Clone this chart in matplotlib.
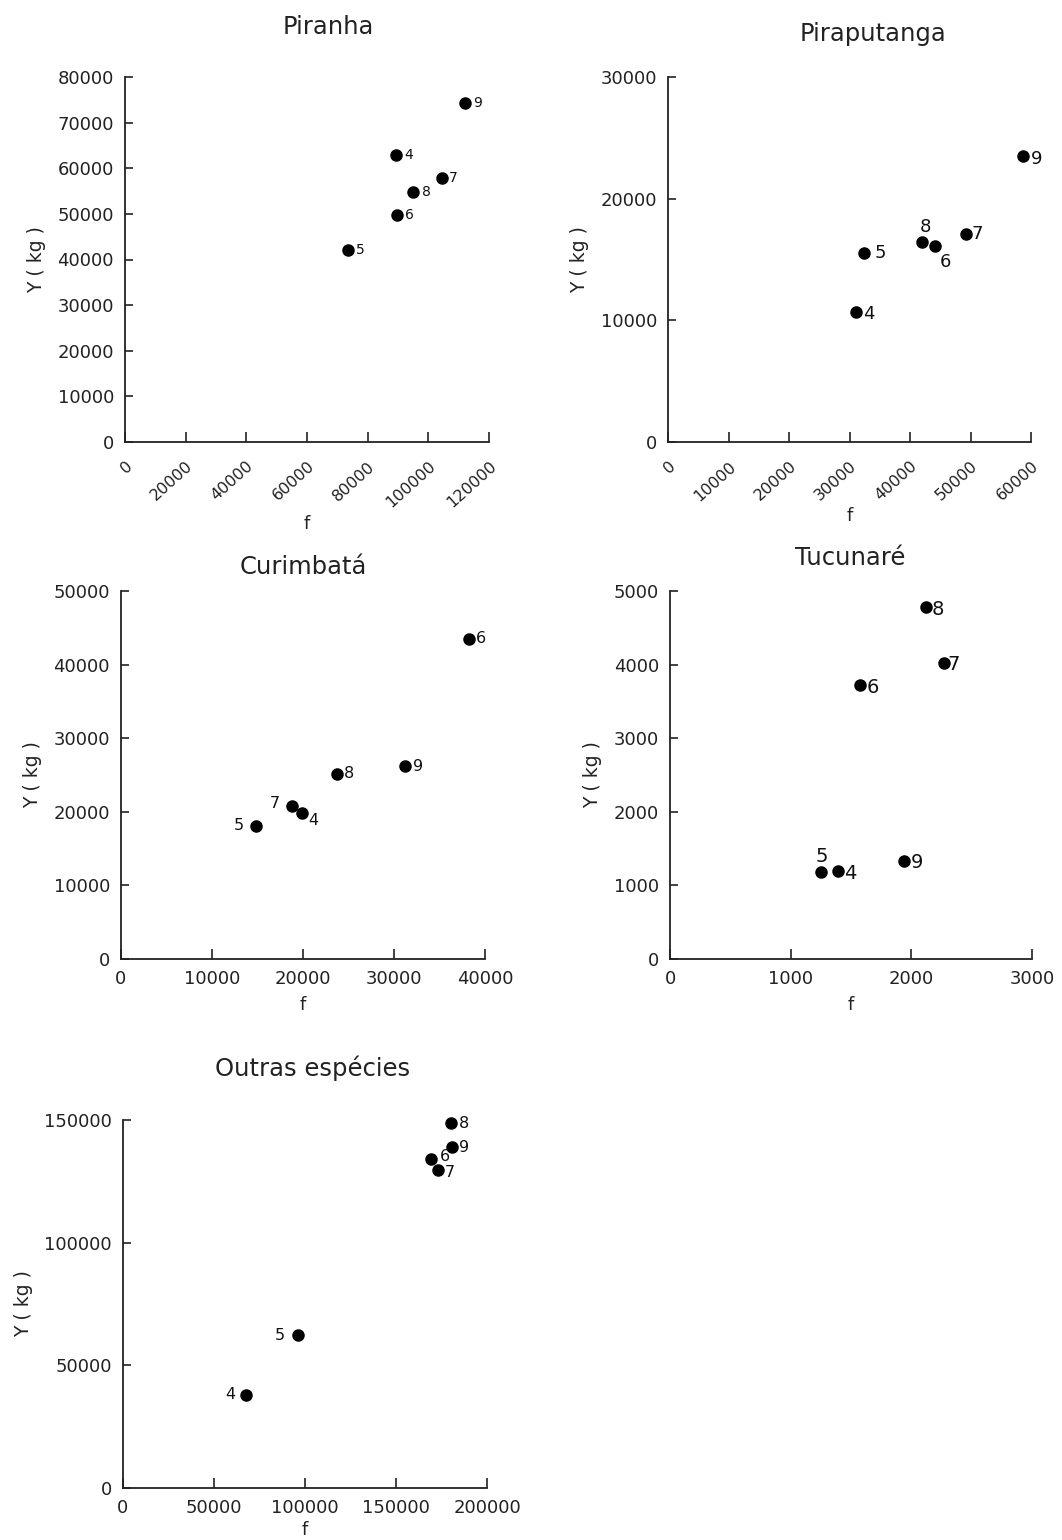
import matplotlib
matplotlib.use('Agg')
import matplotlib.pyplot as plt

# ---- data ----
piranha_f = [89200, 73400, 89600, 104400, 95000, 112000]
piranha_y = [63000, 42100, 49800, 57800, 54700, 74300]
piranha_lab = ['4', '5', '6', '7', '8', '9']

pirap_f = [31100, 32400, 44200, 49200, 42000, 58700]
pirap_y = [10700, 15500, 16100, 17100, 16400, 23500]
pirap_lab = ['4', '5', '6', '7', '8', '9']

curim_f = [19850, 14850, 38200, 18750, 23700, 31200]
curim_y = [19900, 18100, 43500, 20800, 25100, 26200]
curim_lab = ['4', '5', '6', '7', '8', '9']

tucun_f = [1396, 1250, 1576, 2267, 2123, 1941]
tucun_y = [1195, 1185, 3720, 4028, 4783, 1330]
tucun_lab = ['4', '5', '6', '7', '8', '9']

outras_f = [67400, 96200, 169500, 173100, 180400, 180800]
outras_y = [38000, 62200, 134000, 129600, 148600, 138900]
outras_lab = ['4', '5', '6', '7', '8', '9']

titles = ['Piranha', 'Piraputanga', 'Curimbatá', 'Tucunaré', 'Outras espécies']
xticks = [
    [0, 20000, 40000, 60000, 80000, 100000, 120000],
    [0, 10000, 20000, 30000, 40000, 50000, 60000],
    [0, 10000, 20000, 30000, 40000],
    [0, 1000, 2000, 3000],
    [0, 50000, 100000, 150000, 200000],
]
yticks = [
    [0, 10000, 20000, 30000, 40000, 50000, 60000, 70000, 80000],
    [0, 10000, 20000, 30000],
    [0, 10000, 20000, 30000, 40000, 50000],
    [0, 1000, 2000, 3000, 4000, 5000],
    [0, 50000, 100000, 150000],
]

# ---- layout / styling ----
W, H = 1062, 1540
# axes boxes in pixels: left, right, top, bottom
boxes = [(125, 489, 77, 442), (668, 1031, 77, 442), (121, 485, 591, 959),
         (670, 1032, 591, 959), (123, 487, 1120, 1488)]
title_x = [0.558, 0.566, 0.50, 0.498, 0.522]
title_pad = [31, 26, 12.5, 18.5, 32]
rotate_x = [True, True, False, False, False]
xlab_pad = [3, 2, 6, 6, 3]
lab_size = [10, 13, 11.5, 14, 11.5]
# label offsets (pixels, from marker centre) per point
offsets = [
    [(13, 0), (13, 0), (13, 0), (12, 0), (13, 0), (13, 0)],
    [(13, -2), (16, 0), (10, -16), (12, 0), (3, 15), (13, -3)],
    [(12, -8), (-17, 0), (12, 0), (-17, 2), (12, 1), (13, 0)],
    [(12, -2), (1, 15), (13, -2), (10, -2), (12, -3), (13, -1)],
    [(-15, 0), (-18, 0), (13, 3), (12, -2), (13, 0), (12, 0)],
]

series = [
    (piranha_f, piranha_y, piranha_lab),
    (pirap_f, pirap_y, pirap_lab),
    (curim_f, curim_y, curim_lab),
    (tucun_f, tucun_y, tucun_lab),
    (outras_f, outras_y, outras_lab),
]

plt.rcParams['font.family'] = ['DejaVu Sans']
fig = plt.figure(figsize=(W / 100, H / 100), dpi=100)

for i, (fx, fy, labs) in enumerate(series):
    l, r, t, b = boxes[i]
    ax = fig.add_axes([l / W, 1 - b / H, (r - l) / W, (b - t) / H])
    ax.plot(fx, fy, 'o', color='black', markersize=8, clip_on=False)
    for x, y, s, off in zip(fx, fy, labs, offsets[i]):
        ax.annotate(s, (x, y), xytext=off, textcoords='offset pixels',
                    ha='center', va='center', fontsize=lab_size[i], color='#111111')

    ax.set_xlim(xticks[i][0], xticks[i][-1])
    ax.set_ylim(yticks[i][0], yticks[i][-1])
    ax.set_xticks(xticks[i])
    ax.set_yticks(yticks[i])
    ax.set_xticklabels([str(v) for v in xticks[i]])
    ax.set_yticklabels([str(v) for v in yticks[i]])

    for side in ['top', 'right']:
        ax.spines[side].set_visible(False)
    for side in ['left', 'bottom']:
        ax.spines[side].set_linewidth(1.3)
        ax.spines[side].set_color('#222222')
    ax.tick_params(axis='both', direction='in', width=1.2, color='#222222',
                   labelsize=13, labelcolor='#222222')
    ax.tick_params(axis='y', length=6, pad=8)
    ax.tick_params(axis='x', length=7, pad=8)
    if rotate_x[i]:
        ax.tick_params(axis='x', labelsize=11.5, pad=12)
        plt.setp(ax.get_xticklabels(), rotation=42, ha='right', rotation_mode='anchor')

    ax.set_title(titles[i], fontsize=17.5, color='#222222', x=title_x[i], pad=title_pad[i])
    ax.set_ylabel('Y ( kg )', fontsize=13.5, color='#222222', labelpad=8)
    ax.set_xlabel('f', fontsize=13, color='#222222', labelpad=xlab_pad[i])

fig.savefig('out.png', dpi=100, facecolor='white')
